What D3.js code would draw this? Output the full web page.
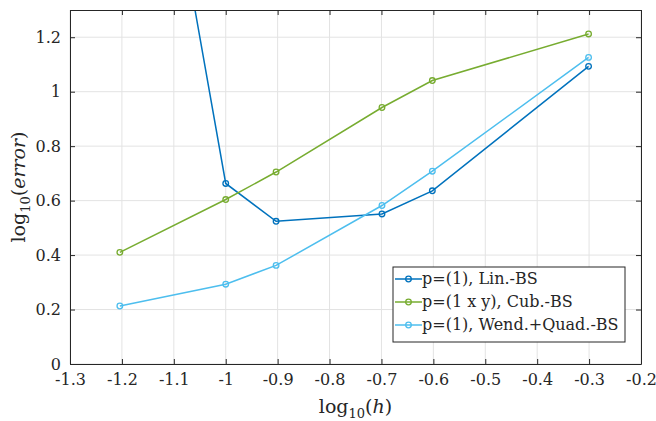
<!DOCTYPE html>
<meta charset="utf-8">
<style>
body { margin: 0; background: #fff; }
svg text { font-family: "DejaVu Serif", serif !important; fill: #262626; }
.grid line { stroke: #e3e3e3; stroke-width: 1px; }
.axis path, .axis line { stroke: #262626; }
</style>
<body>
<script src="https://d3js.org/d3.v7.min.js"></script>
<script>

// log10(h) values
var logH = [-1.204, -1, -0.903, -0.699, -0.602, -0.301];

// log10(error) per method
var linBS   = [2.86, 0.663, 0.524, 0.551, 0.636, 1.093];
var cubBS   = [0.410, 0.604, 0.705, 0.942, 1.041, 1.212];
var wendBS  = [0.213, 0.293, 0.362, 0.582, 0.708, 1.126];

var seriesNames = ["p=(1), Lin.-BS", "p=(1 x y), Cub.-BS", "p=(1), Wend.+Quad.-BS"];
var seriesColors = ["#0072BD", "#77AC30", "#4DBEEE"];

var xTicks = [-1.3, -1.2, -1.1, -1, -0.9, -0.8, -0.7, -0.6, -0.5, -0.4, -0.3, -0.2];
var yTicks = [0, 0.2, 0.4, 0.6, 0.8, 1, 1.2];

// set the dimensions and margins of the graph
var margin = {top: 10, right: 15, bottom: 57, left: 70},
    width = 656 - margin.left - margin.right,
    height = 421 - margin.top - margin.bottom;

var x = d3.scaleLinear().domain([-1.3, -0.2]).range([0, width]);
var y = d3.scaleLinear().domain([0, 1.3]).range([height, 0]);

var svg = d3.select("body").append("svg")
    .attr("width", 656)
    .attr("height", 421)
    .append("g")
    .attr("transform", "translate(" + margin.left + "," + margin.top + ")");

// grid
var grid = svg.append("g").attr("class", "grid");
grid.selectAll(".gx").data(xTicks).enter().append("line")
    .attr("x1", d => x(d)).attr("x2", d => x(d))
    .attr("y1", 0).attr("y2", height);
grid.selectAll(".gy").data(yTicks).enter().append("line")
    .attr("x1", 0).attr("x2", width)
    .attr("y1", d => y(d)).attr("y2", d => y(d));

// clip for the lines
svg.append("clipPath").attr("id", "clip")
    .append("rect").attr("width", width).attr("height", height);

var data = [linBS, cubBS, wendBS];
var line = d3.line()
    .x((d, i) => x(logH[i]))
    .y(d => y(d));

var plot = svg.append("g").attr("clip-path", "url(#clip)");
data.forEach(function (vals, k) {
    plot.append("path")
        .datum(vals)
        .attr("fill", "none")
        .attr("stroke", seriesColors[k])
        .attr("stroke-width", 1.5)
        .attr("d", line);
    plot.selectAll(".m" + k).data(vals).enter().append("circle")
        .attr("cx", (d, i) => x(logH[i]))
        .attr("cy", d => y(d))
        .attr("r", 2.8)
        .attr("fill", "none")
        .attr("stroke", seriesColors[k])
        .attr("stroke-width", 1.3);
});

// axes
var fmt = d => d3.format("")(d).replace("−", "-");
svg.append("g")
    .attr("class", "axis")
    .attr("transform", "translate(0," + height + ")")
    .call(d3.axisBottom(x).tickValues(xTicks).tickSizeInner(-5).tickSizeOuter(0).tickPadding(10).tickFormat(fmt))
    .selectAll("text").style("font-size", "16px");
svg.append("g")
    .attr("class", "axis")
    .call(d3.axisLeft(y).tickValues(yTicks).tickSizeInner(-5).tickSizeOuter(0).tickPadding(9).tickFormat(fmt))
    .selectAll("text").style("font-size", "16px");
svg.append("g")
    .attr("class", "axis")
    .call(d3.axisTop(x).tickValues(xTicks).tickSizeInner(-5).tickSizeOuter(0).tickFormat(""));
svg.append("g")
    .attr("class", "axis")
    .attr("transform", "translate(" + width + ",0)")
    .call(d3.axisRight(y).tickValues(yTicks).tickSizeInner(-5).tickSizeOuter(0).tickFormat(""));
svg.selectAll(".axis path").attr("stroke-width", 1);

// axis labels
var xl = svg.append("text")
    .attr("x", width / 2).attr("y", height + 49)
    .attr("text-anchor", "middle").style("font-size", "19px");
xl.append("tspan").text("log");
xl.append("tspan").attr("dy", 5).style("font-size", "13px").text("10");
xl.append("tspan").attr("dy", -5).text("(");
xl.append("tspan").style("font-style", "italic").text("h");
xl.append("tspan").text(")");

var yl = svg.append("text")
    .attr("transform", "translate(-45," + (height / 2) + ") rotate(-90)")
    .attr("text-anchor", "middle").style("font-size", "19px");
yl.append("tspan").text("log");
yl.append("tspan").attr("dy", 5).style("font-size", "13px").text("10");
yl.append("tspan").attr("dy", -5).text("(");
yl.append("tspan").style("font-style", "italic").text("error");
yl.append("tspan").text(")");

// legend
var lg = svg.append("g").attr("transform", "translate(" + (393 - margin.left) + "," + (267 - margin.top) + ")");
lg.append("rect").attr("width", 232).attr("height", 75)
    .attr("fill", "#fff").attr("stroke", "#262626").attr("stroke-width", 1);
seriesNames.forEach(function (name, k) {
    var yy = 12 + k * 23;
    lg.append("line").attr("x1", 2).attr("x2", 29).attr("y1", yy).attr("y2", yy)
        .attr("stroke", seriesColors[k]).attr("stroke-width", 1.5);
    lg.append("circle").attr("cx", 15.5).attr("cy", yy).attr("r", 2.8)
        .attr("fill", "none").attr("stroke", seriesColors[k]).attr("stroke-width", 1.3);
    lg.append("text").attr("x", 29).attr("y", yy + 5).style("font-size", "16px").text(name);
});

</script>
</body>
